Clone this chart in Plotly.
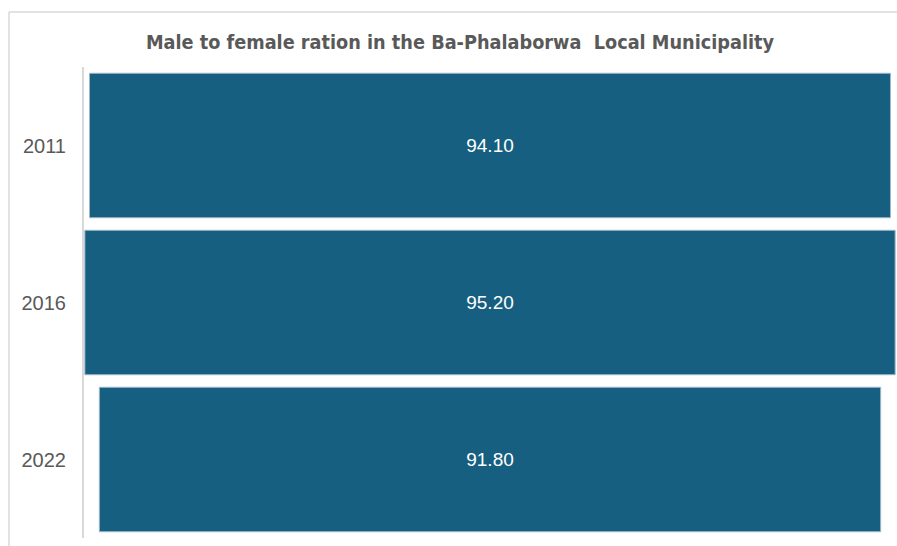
import plotly.graph_objects as go

years = ["2011", "2016", "2022"]
ratios = [94.10, 95.20, 91.80]
title_text = "Male to female ration in the Ba-Phalaborwa  Local Municipality"

W, H = 897, 546
L, R, T, B = 84, 1, 67, 8

fig = go.Figure(go.Funnel(
    y=years,
    x=ratios,
    texttemplate="%{x:.2f}",
    textposition="inside",
    insidetextanchor="middle",
    textfont=dict(color="white", size=19, family="Liberation Sans, Arial"),
    marker=dict(color="#165F80", line=dict(color="#9db8c8", width=1)),
    connector=dict(visible=False),
    width=0.92,
    hoverinfo="x+y",
))

plot_w = W - L - R
plot_h = H - T - B
def px_x(px):
    return (px - L) / plot_w
def px_y(py):
    return (H - B - py) / plot_h

fig.update_layout(
    width=W, height=H,
    margin=dict(l=L, r=R, t=T, b=B),
    paper_bgcolor="white", plot_bgcolor="white",
    showlegend=False,
    title=dict(text="<b>" + title_text + "</b>", x=460 / W, xanchor="center",
               y=1 - 42 / H, yanchor="middle",
               font=dict(family="DejaVu Sans Condensed, Liberation Sans Narrow, Arial Narrow", size=19.7, color="#595959")),
    xaxis=dict(range=[-47.7, 47.7], visible=False, fixedrange=True),
    yaxis=dict(showline=True, linecolor="#d9d9d9", linewidth=2, ticks="", showgrid=False,
               tickfont=dict(family="Liberation Sans, Arial", size=20, color="#595959"),
               ticklabelstandoff=12),
    shapes=[
        dict(type="line", xref="paper", yref="paper", x0=px_x(9), x1=px_x(897), y0=px_y(12), y1=px_y(12),
             line=dict(color="#d9d9d9", width=1.5)),
        dict(type="line", xref="paper", yref="paper", x0=px_x(9), x1=px_x(9), y0=px_y(12), y1=px_y(546),
             line=dict(color="#d9d9d9", width=1.5)),
    ],
)

fig.write_html("out.html", config={"displayModeBar": False},
               post_script="document.body.style.margin='0';document.body.style.overflow='hidden';")
